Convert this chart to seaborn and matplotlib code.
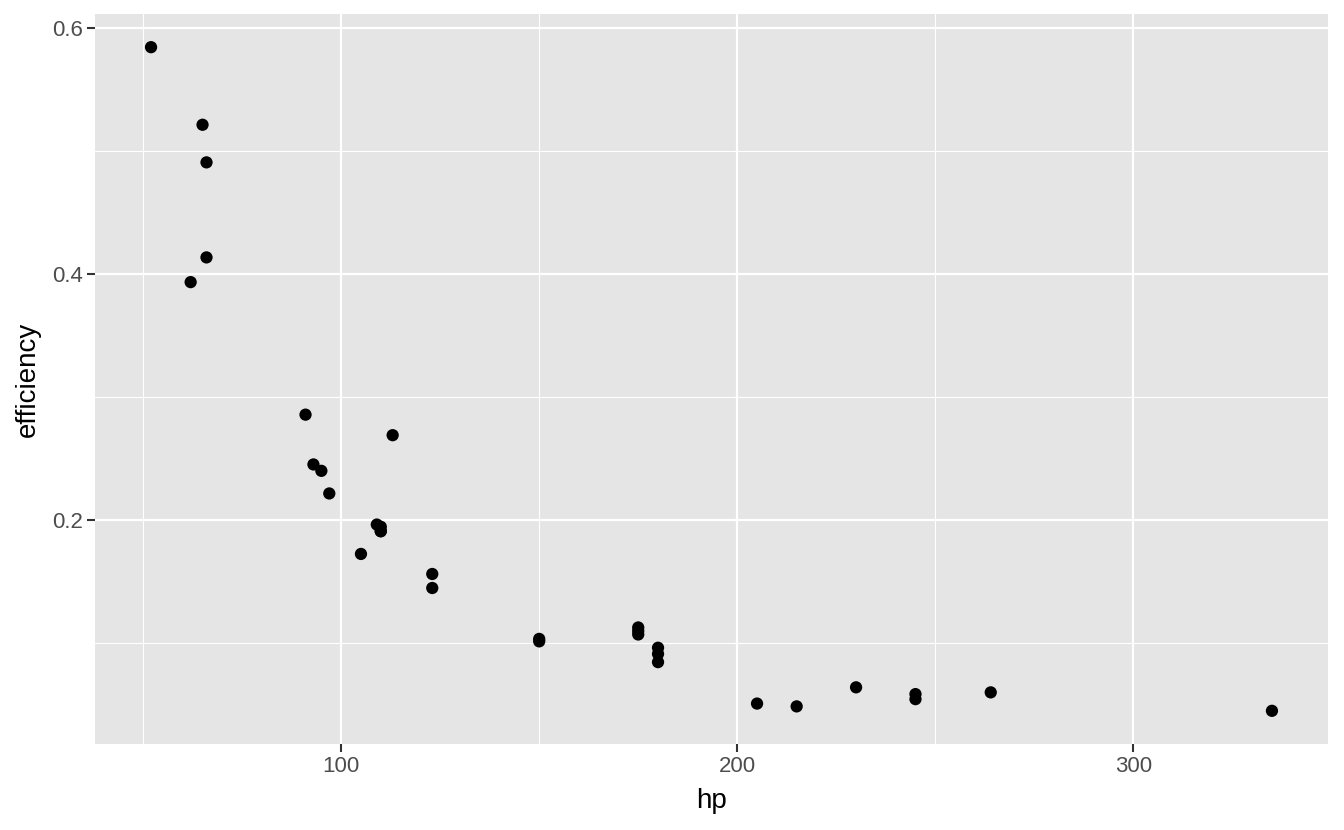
import matplotlib
matplotlib.use("Agg")
import matplotlib.pyplot as plt
import seaborn as sns
import pandas as pd
from matplotlib.ticker import MultipleLocator

hp = [110, 110, 93, 110, 175, 105, 245, 62, 95, 123, 123, 180, 180, 180, 205, 215,
      230, 66, 52, 65, 97, 150, 150, 245, 175, 66, 91, 113, 264, 175, 335, 109]
efficiency = [0.1909, 0.1909, 0.2452, 0.1945, 0.1069, 0.1724, 0.0584, 0.3935,
              0.2400, 0.1561, 0.1447, 0.0911, 0.0961, 0.0844, 0.0507, 0.0484,
              0.0639, 0.4909, 0.5846, 0.5215, 0.2216, 0.1033, 0.1013, 0.0543,
              0.1097, 0.4136, 0.2857, 0.2690, 0.0598, 0.1126, 0.0448, 0.1963]

df = pd.DataFrame({"hp": hp, "efficiency": efficiency})

sns.set_theme(style="darkgrid")
plt.rcParams["font.family"] = ["Liberation Sans", "DejaVu Sans"]

fig = plt.figure(figsize=(13.44, 8.3), dpi=100)
ax = fig.add_axes([95/1344, 1-744/830, (1328-95)/1344, (744-14)/830])
ax.set_facecolor("#E5E5E5")

sns.scatterplot(data=df, x="hp", y="efficiency", ax=ax, color="black",
                s=78, edgecolor="none", zorder=3)

xr = max(hp) - min(hp)
ax.set_xlim(min(hp) - 0.05*xr, max(hp) + 0.05*xr)
yr = max(efficiency) - min(efficiency)
ax.set_ylim(min(efficiency) - 0.05*yr, max(efficiency) + 0.05*yr)

ax.xaxis.set_minor_locator(MultipleLocator(50))
ax.yaxis.set_minor_locator(MultipleLocator(0.1))
ax.set_xticks([100, 200, 300])
ax.set_yticks([0.2, 0.4, 0.6])
ax.set_xticklabels(["100", "200", "300"])
ax.set_yticklabels(["0.2", "0.4", "0.6"])

ax.grid(which="major", color="white", linewidth=1.6)
ax.grid(which="minor", color="white", linewidth=0.8)
ax.set_axisbelow(True)
for s in ax.spines.values():
    s.set_visible(False)

ax.tick_params(axis="both", which="major", length=5.8, width=1.5, color="#333333",
               labelsize=16, labelcolor="#4D4D4D", pad=3, bottom=True, left=True)
ax.tick_params(axis="both", which="minor", length=0)

ax.set_xlabel("hp", fontsize=20, color="black", labelpad=8)
ax.set_ylabel("efficiency", fontsize=20, color="black", labelpad=8)

fig.savefig("out.png", dpi=100)
